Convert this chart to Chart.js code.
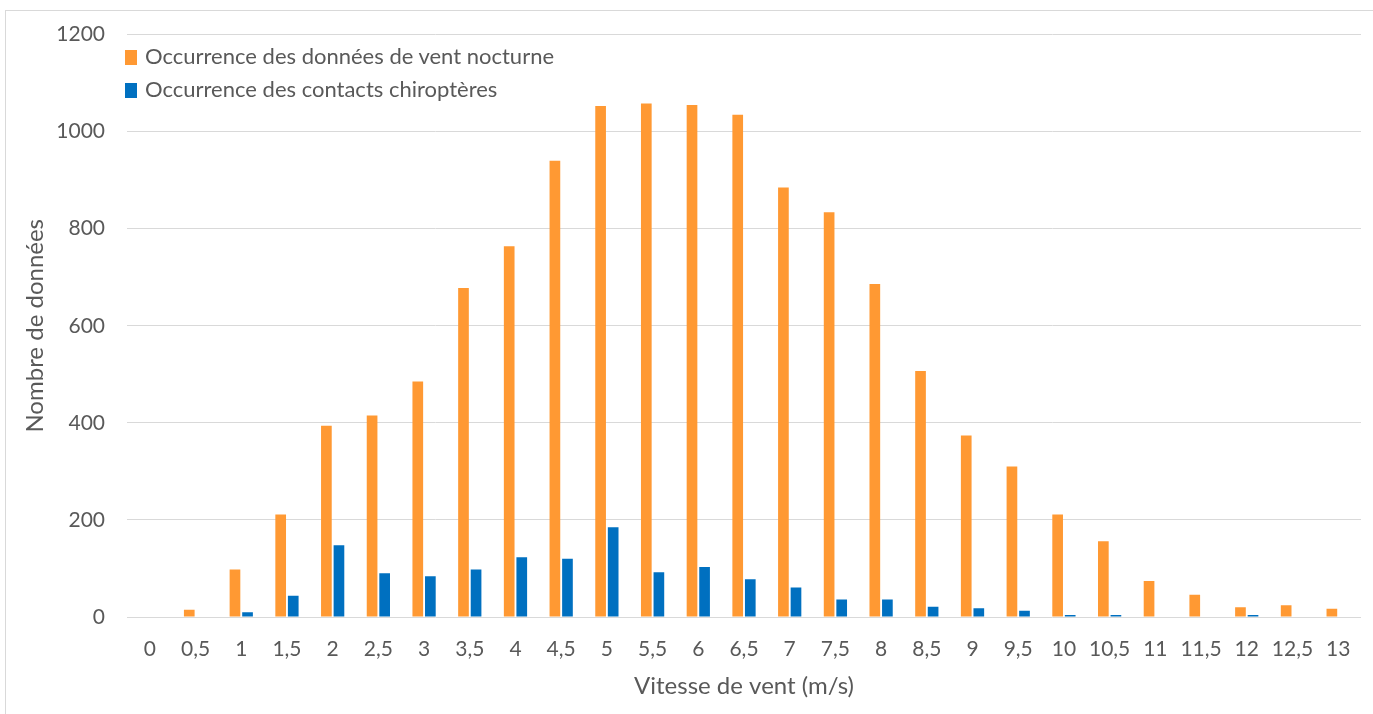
<!DOCTYPE html>
<html>
<head>
<meta charset="utf-8">
<script src="https://cdn.jsdelivr.net/npm/chart.js@4/dist/chart.umd.min.js"></script>
<style>
  html, body { margin: 0; padding: 0; background: #fff; }
  #wrap { position: relative; width: 1373px; height: 714px; }
  #frame { position: absolute; left: 5px; top: 10px; width: 1380px; height: 720px; border: 1px solid #d9d9d9; box-sizing: border-box; }
  canvas { position: absolute; left: 0; top: 0; }
  .leg { position: absolute; left: 125px; font-family: Lato, sans-serif; font-size: 22px; color: #595959; white-space: nowrap; line-height: 22px; }
  .leg span.box { display: inline-block; width: 12px; height: 15px; margin-right: 8px; vertical-align: -1px; }
</style>
</head>
<body>
<div id="wrap">
  <div id="frame"></div>
  <canvas id="c" width="1373" height="714"></canvas>
  <div class="leg" id="leg1" style="top:45px"><span class="box" style="background:#FF9933"></span><span id="l1"></span></div>
  <div class="leg" id="leg2" style="top:78px"><span class="box" style="background:#0070C0"></span><span id="l2"></span></div>
</div>
<script>
const categories = ["0","0,5","1","1,5","2","2,5","3","3,5","4","4,5","5","5,5","6","6,5","7","7,5","8","8,5","9","9,5","10","10,5","11","11,5","12","12,5","13"];
const seriesNames = ["Occurrence des données de vent nocturne", "Occurrence des contacts chiroptères"];
const ventNocturne = [0,15,98,211,394,415,485,678,764,940,1053,1058,1055,1035,885,834,686,507,374,310,211,156,74,46,20,24,17];
const contactsChiropteres = [0,0,10,44,148,90,84,98,123,120,185,92,103,78,61,36,36,21,18,13,4,4,0,0,4,0,0];
const yTicks = [0,200,400,600,800,1000,1200];
const xTitle = "Vitesse de vent (m/s)";
const yTitle = "Nombre de données";

document.getElementById('l1').textContent = seriesNames[0];
document.getElementById('l2').textContent = seriesNames[1];

const txt = '#595959';
new Chart(document.getElementById('c'), {
  type: 'bar',
  data: {
    labels: categories,
    datasets: [
      { label: seriesNames[0], data: ventNocturne, backgroundColor: '#FF9933', categoryPercentage: 0.55, barPercentage: 0.85 },
      { label: seriesNames[1], data: contactsChiropteres, backgroundColor: '#0070C0', categoryPercentage: 0.55, barPercentage: 0.85 }
    ]
  },
  options: {
    responsive: false,
    animation: false,
    layout: { padding: { left: 0, right: 12, top: 33, bottom: 0 } },
    plugins: { legend: { display: false }, tooltip: { enabled: false } },
    scales: {
      x: {
        grid: { display: false, drawTicks: false },
        border: { display: false },
        ticks: { color: txt, font: { family: 'Lato', size: 21 }, padding: 20, maxRotation: 0, autoSkip: false },
        title: { display: true, text: xTitle, color: txt, font: { family: 'Lato', size: 24 }, padding: { top: 0, bottom: 13 } },
        afterFit: (s) => { s.height = 97; }
      },
      y: {
        min: 0, max: 1200,
        afterBuildTicks: (s) => { s.ticks = yTicks.map(v => ({ value: v })); },
        grid: { color: '#d9d9d9', lineWidth: 1, drawTicks: false },
        border: { display: false },
        ticks: { color: txt, font: { family: 'Lato', size: 21 }, padding: 22, callback: (v) => String(v) },
        title: { display: true, text: yTitle, color: txt, font: { family: 'Lato', size: 24 }, padding: { top: 21, bottom: 0 } },
        afterFit: (s) => { s.width = 127; }
      }
    }
  }
});
</script>
</body>
</html>
